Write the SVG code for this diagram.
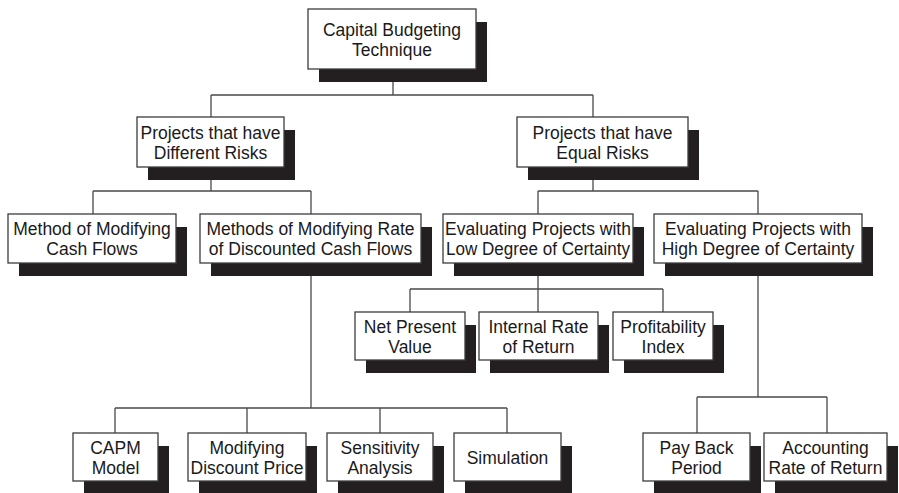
<svg xmlns="http://www.w3.org/2000/svg" width="899" height="493" viewBox="0 0 899 493">
  <style>
    .bg { fill: #ffffff; }
    .shadow { fill: #231f20; }
    .box { fill: #ffffff; stroke: #3c3c3c; stroke-width: 1.3; }
    .lbl { font-family: "Liberation Sans", Arial, sans-serif; font-size: 17.5px; fill: #1a1a1a; text-anchor: middle; }
    .conn { fill: none; stroke: #4a4a4a; stroke-width: 1.3; }
  </style>

  <rect class="bg" x="0" y="0" width="899" height="493"/>

  <!-- tree connectors -->
  <g id="connectors">
    <path class="conn" d="M393 69 V95 M211 95 H593 M211 95 V117 M593 95 V117"/>
    <path class="conn" d="M211 167 V191 M93 191 H311 M93 191 V214 M311 191 V214"/>
    <path class="conn" d="M593 167 V191 M538 191 H758 M538 191 V214 M758 191 V214"/>
    <path class="conn" d="M538 263 V289 M410 289 H663 M410 289 V312 M538 289 V312 M663 289 V312"/>
    <path class="conn" d="M311 263 V408 M115 408 H507 M115 408 V433 M247 408 V433 M380 408 V433 M507 408 V433"/>
    <path class="conn" d="M758 263 V397 M697 397 H827 M697 397 V433 M827 397 V433"/>
  </g>

  <!-- root -->
  <g id="capital-budgeting">
    <rect class="shadow" x="319" y="22" width="168" height="60"/>
    <rect class="box" x="308" y="9" width="168" height="60"/>
    <text class="lbl" x="392" y="35.5">Capital Budgeting</text>
    <text class="lbl" x="392" y="55.5">Technique</text>
  </g>

  <!-- level 2 -->
  <g id="different-risks">
    <rect class="shadow" x="148" y="130" width="147" height="50"/>
    <rect class="box" x="137" y="117" width="147" height="50"/>
    <text class="lbl" x="210.5" y="138.5">Projects that have</text>
    <text class="lbl" x="210.5" y="158.5">Different Risks</text>
  </g>
  <g id="equal-risks">
    <rect class="shadow" x="528" y="130" width="171" height="50"/>
    <rect class="box" x="517" y="117" width="171" height="50"/>
    <text class="lbl" x="602.5" y="138.5">Projects that have</text>
    <text class="lbl" x="602.5" y="158.5">Equal Risks</text>
  </g>

  <!-- level 3 -->
  <g id="modifying-cash-flows">
    <rect class="shadow" x="19" y="227" width="168" height="49"/>
    <rect class="box" x="8" y="214" width="168" height="49"/>
    <text class="lbl" x="92" y="235">Method of Modifying</text>
    <text class="lbl" x="92" y="255">Cash Flows</text>
  </g>
  <g id="modifying-discount-rate">
    <rect class="shadow" x="211" y="227" width="221" height="49"/>
    <rect class="box" x="200" y="214" width="221" height="49"/>
    <text class="lbl" x="310.5" y="235">Methods of Modifying Rate</text>
    <text class="lbl" x="310.5" y="255">of Discounted Cash Flows</text>
  </g>
  <g id="low-certainty">
    <rect class="shadow" x="454" y="227" width="190" height="49"/>
    <rect class="box" x="443" y="214" width="190" height="49"/>
    <text class="lbl" x="538" y="235">Evaluating Projects with</text>
    <text class="lbl" x="538" y="255" textLength="184" lengthAdjust="spacingAndGlyphs">Low Degree of Certainty</text>
  </g>
  <g id="high-certainty">
    <rect class="shadow" x="665" y="227" width="208" height="49"/>
    <rect class="box" x="654" y="214" width="208" height="49"/>
    <text class="lbl" x="758" y="235">Evaluating Projects with</text>
    <text class="lbl" x="758" y="255">High Degree of Certainty</text>
  </g>

  <!-- discounted cash flow techniques -->
  <g id="net-present-value">
    <rect class="shadow" x="366" y="325" width="110" height="48"/>
    <rect class="box" x="355" y="312" width="110" height="48"/>
    <text class="lbl" x="410" y="332.5">Net Present</text>
    <text class="lbl" x="410" y="352.5">Value</text>
  </g>
  <g id="internal-rate-of-return">
    <rect class="shadow" x="490" y="325" width="119" height="48"/>
    <rect class="box" x="479" y="312" width="119" height="48"/>
    <text class="lbl" x="538.5" y="332.5">Internal Rate</text>
    <text class="lbl" x="538.5" y="352.5">of Return</text>
  </g>
  <g id="profitability-index">
    <rect class="shadow" x="624" y="325" width="100" height="48"/>
    <rect class="box" x="613" y="312" width="100" height="48"/>
    <text class="lbl" x="663" y="332.5">Profitability</text>
    <text class="lbl" x="663" y="352.5">Index</text>
  </g>

  <!-- risk-adjusted rate techniques -->
  <g id="capm-model">
    <rect class="shadow" x="84" y="446" width="85" height="48"/>
    <rect class="box" x="73" y="433" width="85" height="48"/>
    <text class="lbl" x="115.5" y="453.5">CAPM</text>
    <text class="lbl" x="115.5" y="473.5">Model</text>
  </g>
  <g id="modifying-discount-price">
    <rect class="shadow" x="199" y="446" width="118" height="48"/>
    <rect class="box" x="188" y="433" width="118" height="48"/>
    <text class="lbl" x="247" y="453.5">Modifying</text>
    <text class="lbl" x="247" y="473.5">Discount Price</text>
  </g>
  <g id="sensitivity-analysis">
    <rect class="shadow" x="338" y="446" width="106" height="48"/>
    <rect class="box" x="327" y="433" width="106" height="48"/>
    <text class="lbl" x="380" y="453.5">Sensitivity</text>
    <text class="lbl" x="380" y="473.5">Analysis</text>
  </g>
  <g id="simulation">
    <rect class="shadow" x="465" y="446" width="107" height="48"/>
    <rect class="box" x="454" y="433" width="107" height="48"/>
    <text class="lbl" x="507.5" y="463.5">Simulation</text>
  </g>

  <!-- non-discounted techniques -->
  <g id="pay-back-period">
    <rect class="shadow" x="654" y="446" width="107" height="48"/>
    <rect class="box" x="643" y="433" width="107" height="48"/>
    <text class="lbl" x="696.5" y="453.5">Pay Back</text>
    <text class="lbl" x="696.5" y="473.5">Period</text>
  </g>
  <g id="accounting-rate-of-return">
    <rect class="shadow" x="775" y="446" width="123" height="48"/>
    <rect class="box" x="764" y="433" width="123" height="48"/>
    <text class="lbl" x="825.5" y="453.5">Accounting</text>
    <text class="lbl" x="825.5" y="473.5">Rate of Return</text>
  </g>
</svg>
